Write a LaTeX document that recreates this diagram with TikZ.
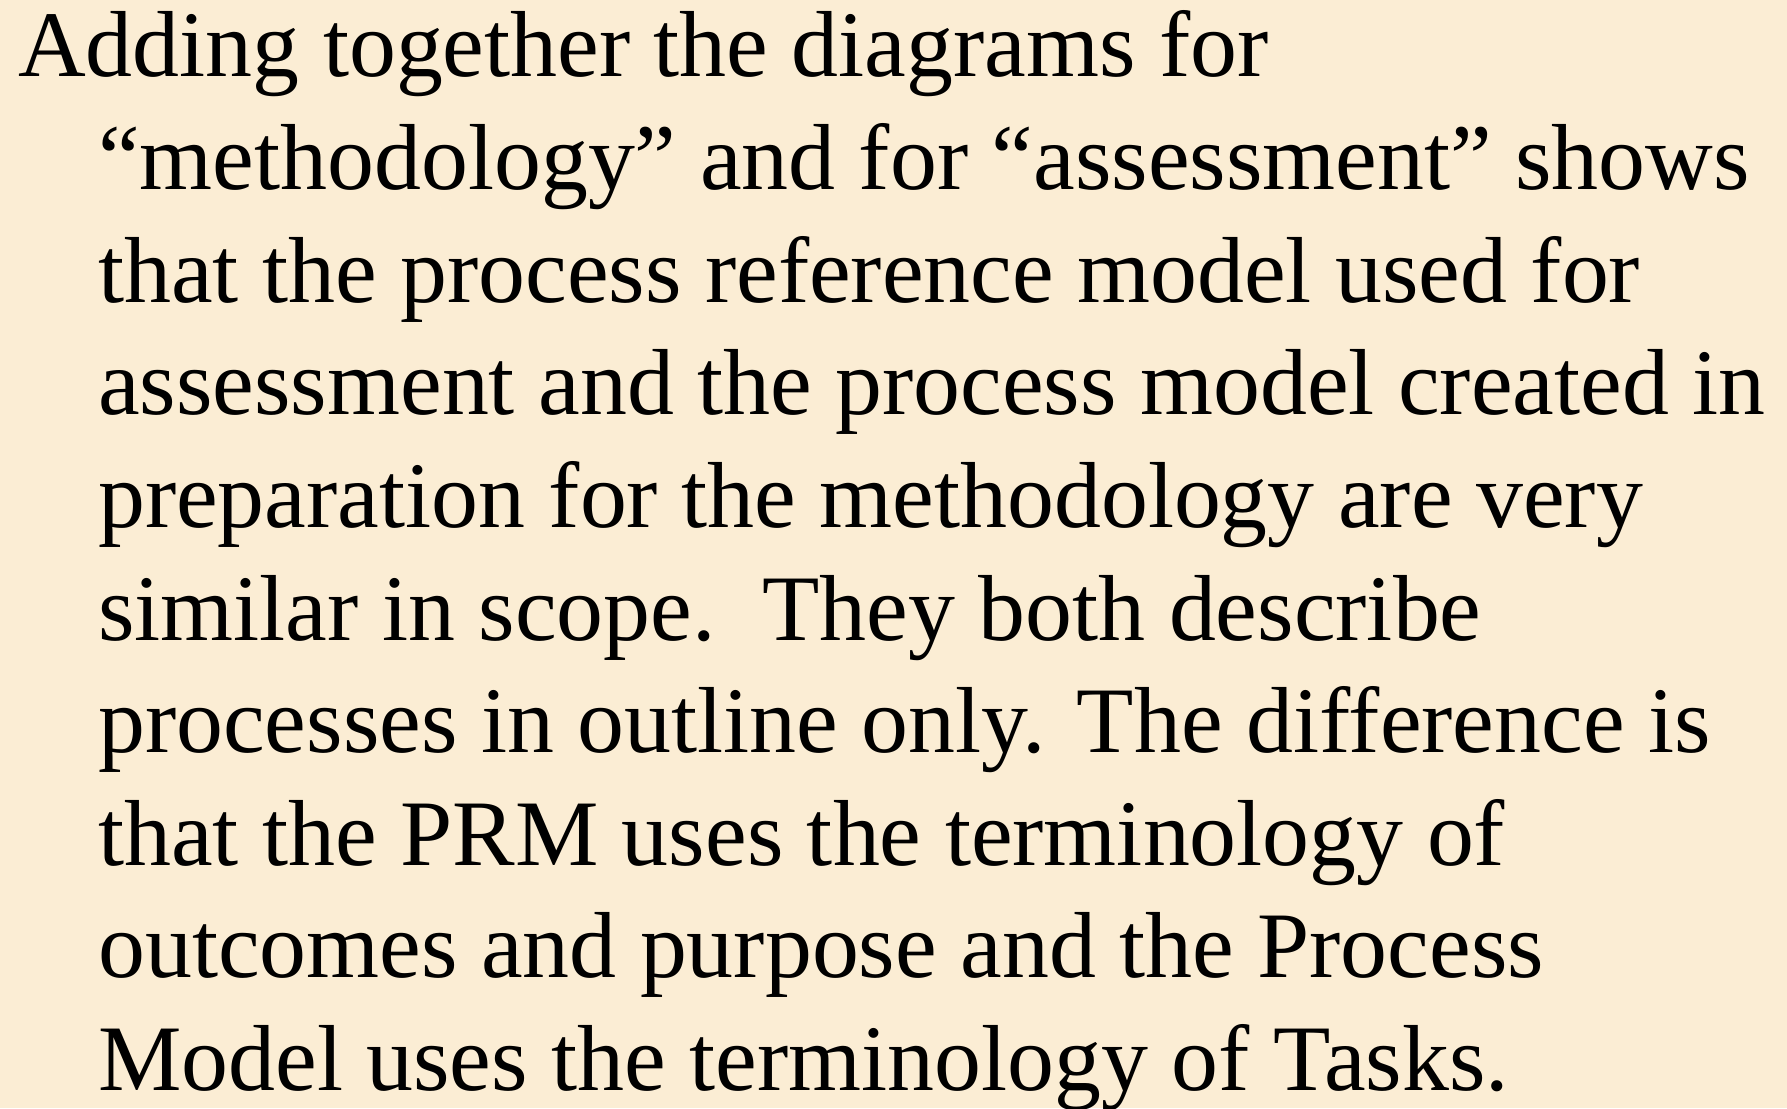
\documentclass[tikz,border=0pt]{standalone}
\usepackage{fontspec}
\setmainfont{Liberation Serif}
\definecolor{parchment}{RGB}{251,237,212}
\tikzset{
  textline/.style={anchor=base west, inner sep=0pt, font=\fontsize{93.8}{112}\selectfont, text=black},
}
\begin{document}
\begin{tikzpicture}[x=1pt,y=-1pt]
  % page: 1787 x 1108, y grows downwards
  \fill[parchment] (0,0) rectangle (1787,1108);
  \useasboundingbox (0,0) rectangle (1787,1108);
  % first line flush left, the rest hang indented
  \node[textline] (l1)  at (18,77)     {Adding together the diagrams for};
  \node[textline] (l2)  at (98,189.6)  {“methodology” and for “assessment” shows};
  \node[textline] (l3)  at (98,302.2)  {that the process reference model used for};
  \node[textline] (l4)  at (98,414.8)  {assessment and the process model created in};
  \node[textline] (l5)  at (98,527.4)  {preparation for the methodology are very};
  \node[textline] (l6)  at (98,640.0)  {similar in scope.\ \ They both describe};
  \node[textline] (l7)  at (98,752.6)  {processes in outline only. The difference is};
  \node[textline] (l8)  at (98,865.2)  {that the PRM uses the terminology of};
  \node[textline] (l9)  at (98,977.8)  {outcomes and purpose and the Process};
  \node[textline] (l10) at (98,1090.0) {Model uses the terminology of Tasks.};
\end{tikzpicture}
\end{document}
